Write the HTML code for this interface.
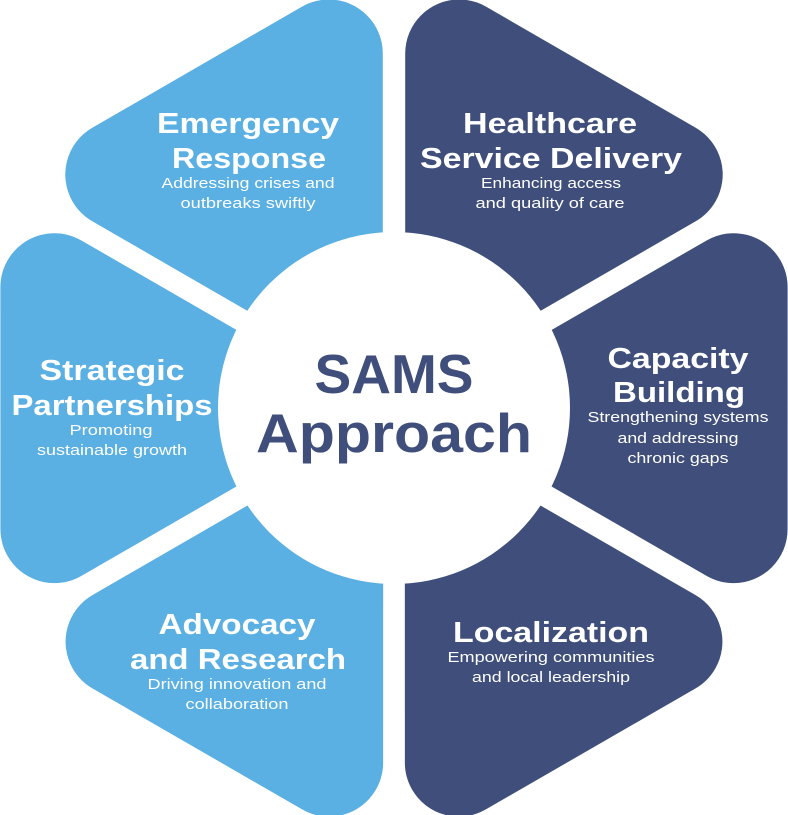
<!DOCTYPE html>
<html><head><meta charset="utf-8"><style>
html,body{margin:0;padding:0;background:#fff;}
svg{display:block;}
text{font-family:"Liberation Sans",sans-serif;fill:#fff;text-anchor:middle;}
.t{font-weight:bold;font-size:29px;}
.s{font-size:14.5px;}
</style></head><body>
<svg width="788" height="815" viewBox="0 0 788 815" xmlns="http://www.w3.org/2000/svg">
<defs>
<polygon id="seg" points="65.2,-354.5 274.7,-233.5 65.2,-112.5" stroke-width="108" stroke-linejoin="round"/>
</defs>
<g transform="translate(394,408)">
<g fill="#3f4e7a" stroke="#3f4e7a">
<use href="#seg"/>
<use href="#seg" transform="rotate(60)"/>
<use href="#seg" transform="rotate(120)"/>
</g>
<g fill="#5aafe3" stroke="#5aafe3">
<use href="#seg" transform="scale(-1,1)"/>
<use href="#seg" transform="scale(-1,1) rotate(60)"/>
<use href="#seg" transform="scale(-1,1) rotate(120)"/>
</g>
<circle cx="0" cy="0" r="176" fill="#fff"/>
</g>

<text class="t" x="248" y="133" textLength="182" lengthAdjust="spacingAndGlyphs">Emergency</text>
<text class="t" x="249" y="168" textLength="154" lengthAdjust="spacingAndGlyphs">Response</text>
<text class="s" x="248" y="188" textLength="173" lengthAdjust="spacingAndGlyphs">Addressing crises and</text>
<text class="s" x="248" y="208" textLength="135" lengthAdjust="spacingAndGlyphs">outbreaks swiftly</text>

<text class="t" x="550" y="133" textLength="174" lengthAdjust="spacingAndGlyphs">Healthcare</text>
<text class="t" x="551" y="168" textLength="262" lengthAdjust="spacingAndGlyphs">Service Delivery</text>
<text class="s" x="551" y="188" textLength="140" lengthAdjust="spacingAndGlyphs">Enhancing access</text>
<text class="s" x="550" y="208" textLength="149" lengthAdjust="spacingAndGlyphs">and quality of care</text>

<text class="t" x="112" y="380" textLength="145" lengthAdjust="spacingAndGlyphs">Strategic</text>
<text class="t" x="112" y="415" textLength="201" lengthAdjust="spacingAndGlyphs">Partnerships</text>
<text class="s" x="111" y="435" textLength="83" lengthAdjust="spacingAndGlyphs">Promoting</text>
<text class="s" x="112" y="455" textLength="150" lengthAdjust="spacingAndGlyphs">sustainable growth</text>

<text class="t" x="678" y="368" textLength="141" lengthAdjust="spacingAndGlyphs">Capacity</text>
<text class="t" x="679" y="402" textLength="132" lengthAdjust="spacingAndGlyphs">Building</text>
<text class="s" x="678" y="422" textLength="181" lengthAdjust="spacingAndGlyphs">Strengthening systems</text>
<text class="s" x="678" y="443" textLength="121" lengthAdjust="spacingAndGlyphs">and addressing</text>
<text class="s" x="678" y="463" textLength="101" lengthAdjust="spacingAndGlyphs">chronic gaps</text>

<text class="t" x="237" y="634" textLength="157" lengthAdjust="spacingAndGlyphs">Advocacy</text>
<text class="t" x="238" y="669" textLength="216" lengthAdjust="spacingAndGlyphs">and Research</text>
<text class="s" x="237" y="689" textLength="179" lengthAdjust="spacingAndGlyphs">Driving innovation and</text>
<text class="s" x="237" y="709" textLength="103" lengthAdjust="spacingAndGlyphs">collaboration</text>

<text class="t" x="551" y="642" textLength="196" lengthAdjust="spacingAndGlyphs">Localization</text>
<text class="s" x="551" y="662" textLength="207" lengthAdjust="spacingAndGlyphs">Empowering communities</text>
<text class="s" x="551" y="682" textLength="158" lengthAdjust="spacingAndGlyphs">and local leadership</text>

<text x="394" y="393" style="font-weight:bold;font-size:55px;fill:#3f4e7a" textLength="159" lengthAdjust="spacingAndGlyphs">SAMS</text>
<text x="394" y="452" style="font-weight:bold;font-size:55px;fill:#3f4e7a" textLength="276" lengthAdjust="spacingAndGlyphs">Approach</text>
</svg>
</body></html>
